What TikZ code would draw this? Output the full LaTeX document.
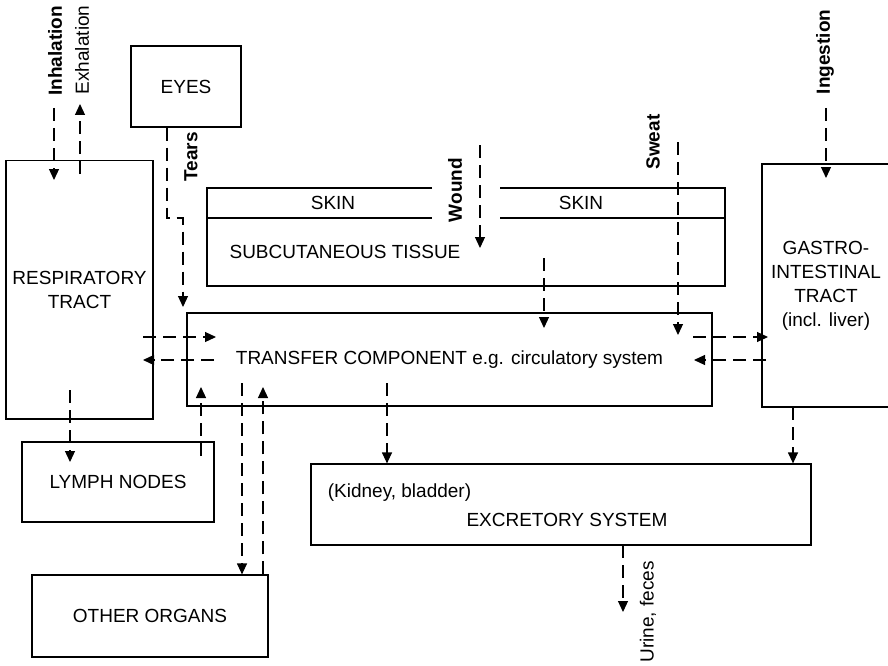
\documentclass[tikz,border=0pt]{standalone}
\usepackage{fontspec}
\setmainfont{Liberation Sans}
\usetikzlibrary{arrows.meta}

\newcommand{\labelsize}{\fontsize{19}{24}\selectfont}

\tikzset{
  box/.style={draw, line width=1.2pt, inner sep=0pt, align=center},
  flow/.style={line width=1.2pt, dash pattern=on 13pt off 7pt,
    -{Triangle[length=11pt,width=10pt]}},
  tag/.style={rotate=90, font=\labelsize\bfseries},
  plaintag/.style={rotate=90},
}

\begin{document}
\begin{tikzpicture}[x=1pt, y=-1pt, line width=1.2pt,
  every node/.style={font=\labelsize}]
  \useasboundingbox (0,0) rectangle (888,666);

  % boxes
  \node[box, minimum width=110pt, minimum height=81pt] (eyes) at (186,86.5) {EYES};
  \node[box, minimum width=147pt, minimum height=258.5pt] (rt) at (79.5,289.75) {RESPIRATORY\\TRACT};
  \node[box, minimum width=525pt, minimum height=93pt] (tc) at (449.5,359.5) {TRANSFER COMPONENT e.g. circulatory system};
  \node[box, minimum width=192pt, minimum height=80pt] (ln) at (118,482) {LYMPH NODES};
  \node[box, minimum width=236pt, minimum height=82pt] (oo) at (150,616) {OTHER ORGANS};
  \node[box, minimum width=500pt, minimum height=81pt] (es) at (561,504.5) {};
  \node (kidney) at (399.5,493) {(Kidney, bladder)};
  \node (exsys) at (567,520) {EXCRETORY SYSTEM};

  % skin, broken by the wound
  \draw (432,188) -| (207,286) -| (725,188) -- (500,188);
  \draw (207,218) -- (432,218) (500,218) -- (725,218);
  \node (skinl) at (333,203) {SKIN};
  \node (skinr) at (581,203) {SKIN};
  \node (subcut) at (345,252) {SUBCUTANEOUS TISSUE};

  % gastro-intestinal tract, cut by the page edge
  \draw (888,164) -- (762,164) -- (762,407) -- (888,407);
  \node[align=center] (gi) at (826,286) {GASTRO-\\INTESTINAL\\TRACT\\(incl. liver)};

  % labels
  \node[tag] (inhale) at (55,51) {Inhalation};
  \node[plaintag] (exhale) at (82,50) {Exhalation};
  \node[tag] (tears) at (191,157) {Tears};
  \node[tag] (wound) at (455,190) {Wound};
  \node[tag] (sweat) at (653,142) {Sweat};
  \node[tag] (ingest) at (825,52) {Ingestion};
  \node[plaintag] (urine) at (648,612) {Urine, feces};

  % free ends
  \coordinate (inA) at (54,108);   \coordinate (inB) at (54,180);
  \coordinate (exA) at (80,174);   \coordinate (exB) at (80,104);
  \coordinate (teA) at (167,218);  \coordinate (teB) at (183,218);
  \coordinate (teC) at (183,307);
  \coordinate (woA) at (480,145);  \coordinate (woB) at (480,248);
  \coordinate (swA) at (678,142);  \coordinate (swB) at (678,335);
  \coordinate (scA) at (544,258);  \coordinate (scB) at (544,328);
  \coordinate (rtA) at (143,337);  \coordinate (rtB) at (216,337);
  \coordinate (rtC) at (214,360);  \coordinate (rtD) at (143,360);
  \coordinate (giA) at (693,337);  \coordinate (giB) at (768,337);
  \coordinate (giC) at (766,360);  \coordinate (giD) at (694,360);
  \coordinate (lnA) at (70,390);   \coordinate (lnB) at (70,462);
  \coordinate (lnC) at (201,456);  \coordinate (lnD) at (201,387);
  \coordinate (ooA) at (242,383);  \coordinate (ooB) at (263,387);
  \coordinate (esA) at (387,383);  \coordinate (esB) at (793,407);
  \coordinate (igA) at (826,108);  \coordinate (igB) at (826,178);
  \coordinate (urA) at (623,545);  \coordinate (urB) at (623,612);

  % intake
  \draw[flow] (inA) -- (inB);
  \draw[flow] (exA) -- (exB);
  \draw[flow] (eyes.south -| teA) -- (teA) -- (teB) -- (teC);
  \draw[flow] (woA) -- (woB);
  \draw[flow] (swA) -- (swB);
  \draw[flow] (igA) -- (igB);

  % exchange with the transfer component
  \draw[flow] (scA) -- (scB);
  \draw[flow] (rtA) -- (rtB);
  \draw[flow] (rtC) -- (rtD);
  \draw[flow] (giA) -- (giB);
  \draw[flow] (giC) -- (giD);
  \draw[flow] (lnA) -- (lnB);
  \draw[flow] (lnC) -- (lnD);
  \draw[flow] (ooA) -- (oo.north -| ooA);
  \draw[flow] (oo.north -| ooB) -- (ooB);

  % excretion
  \draw[flow] (esA) -- (es.north -| esA);
  \draw[flow] (esB) -- (es.north -| esB);
  \draw[flow] (urA) -- (urB);
\end{tikzpicture}
\end{document}
